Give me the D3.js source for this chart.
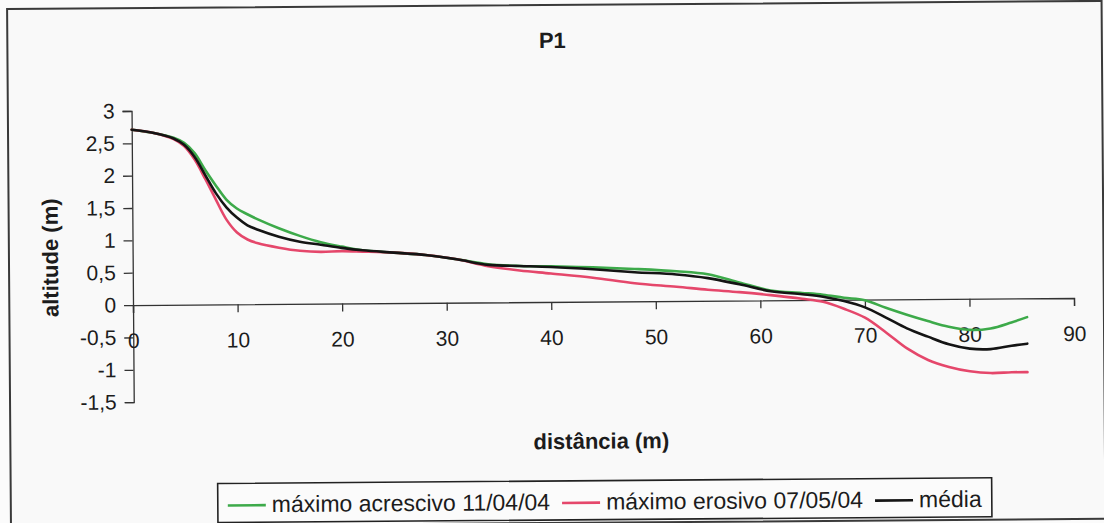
<!DOCTYPE html>
<html>
<head>
<meta charset="utf-8">
<script src="https://cdn.jsdelivr.net/npm/d3@7"></script>
<style>
html,body{margin:0;padding:0;background:#fbfbfb;}
svg{display:block;}
text{font-family:"Liberation Sans",Arial,sans-serif;fill:#1c1c1c;}
</style>
</head>
<body>
<svg id="chart" width="1104" height="523"></svg>
<script>
// ---- data ----
const distancia = [0,2,4,5,6,7,8,9,10,11,12,14,16,18,20,22,25,28,31,34,37,40,44,48,52,55,58,61,64,66,68,70,72,74,76,78,80,82,84,85.5];
const maximoAcrescivo = [2.71,2.66,2.58,2.50,2.34,2.08,1.84,1.62,1.48,1.39,1.31,1.17,1.05,0.95,0.88,0.82,0.78,0.74,0.67,0.59,0.56,0.55,0.53,0.50,0.46,0.41,0.28,0.15,0.11,0.08,0.03,-0.01,-0.13,-0.24,-0.34,-0.43,-0.48,-0.46,-0.37,-0.29];
const maximoErosivo = [2.71,2.66,2.56,2.45,2.24,1.94,1.62,1.31,1.11,1.00,0.94,0.87,0.82,0.80,0.81,0.80,0.78,0.74,0.67,0.56,0.49,0.44,0.37,0.28,0.22,0.17,0.13,0.08,0.02,-0.03,-0.14,-0.28,-0.51,-0.76,-0.94,-1.05,-1.12,-1.15,-1.14,-1.14];
const media = [2.71,2.66,2.57,2.47,2.28,2.00,1.72,1.50,1.34,1.22,1.15,1.04,0.96,0.91,0.86,0.82,0.78,0.74,0.67,0.58,0.56,0.54,0.50,0.45,0.41,0.35,0.25,0.14,0.09,0.05,-0.02,-0.12,-0.28,-0.45,-0.58,-0.70,-0.77,-0.78,-0.73,-0.70];
const seriesNames = ["máximo acrescivo 11/04/04","máximo erosivo 07/05/04","média"];
const seriesColors = ["#3daa4a","#e5476b","#141414"];
const xTicks = [0,10,20,30,40,50,60,70,80,90];
const yTicks = [3,2.5,2,1.5,1,0.5,0,-0.5,-1,-1.5];
const chartTitle = "P1";
const xTitle = "distância (m)";
const yTitle = "altitude (m)";

const series = [maximoAcrescivo, maximoErosivo, media].map((vals,i)=>({
  name: seriesNames[i], color: seriesColors[i],
  pts: distancia.map((d,j)=>[d, vals[j]])
}));

const svg = d3.select("#chart");
// slight scan tilt
const root = svg.append("g").attr("transform","rotate(-0.43,552,262)");

// outer frame
root.append("rect").attr("x",9).attr("y",5).attr("width",1094.5).attr("height",518)
  .attr("fill","#f9f9f9").attr("stroke","#3a3a3a").attr("stroke-width",2);

const x = d3.scaleLinear().domain([0,90]).range([132.7,1073.7]);
const y = d3.scaleLinear().domain([-1.5,3]).range([399,107.8]);
const fmt = v => String(v).replace(".", ",");

// y axis
const ya = root.append("g").attr("transform",`translate(${x(0)},0)`)
  .call(d3.axisLeft(y).tickValues(yTicks).tickSize(9).tickPadding(8).tickFormat(fmt));
ya.select(".domain").attr("stroke","#333").attr("stroke-width",1.3);
ya.selectAll(".tick line").attr("stroke","#333").attr("stroke-width",1.3);
ya.selectAll(".tick text").attr("font-size",21).attr("fill","#1c1c1c")
  .attr("font-family","Liberation Sans, Arial, sans-serif");

// x axis at y = 0
const xa = root.append("g").attr("transform",`translate(0,${y(0)})`)
  .call(d3.axisBottom(x).tickValues(xTicks).tickSize(8).tickFormat(d3.format("d")));
xa.select(".domain").attr("stroke","#333").attr("stroke-width",1.3);
xa.selectAll(".tick line").attr("stroke","#333").attr("stroke-width",1.3);
xa.selectAll(".tick text").attr("font-size",21).attr("fill","#1c1c1c")
  .attr("font-family","Liberation Sans, Arial, sans-serif")
  .attr("y",43).attr("dy",0);

// lines
const line = d3.line().x(d=>x(d[0])).y(d=>y(d[1])).curve(d3.curveCatmullRom.alpha(0.5));
root.append("g").selectAll("path").data(series).join("path")
  .attr("d",d=>line(d.pts)).attr("fill","none")
  .attr("stroke",d=>d.color).attr("stroke-width",2.6)
  .attr("stroke-linejoin","round").attr("stroke-linecap","round");

// titles
root.append("text").attr("x",554).attr("y",48).attr("text-anchor","middle")
  .attr("font-size",22).attr("font-weight","bold").text(chartTitle);
root.append("text").attr("x",600).attr("y",449).attr("text-anchor","middle")
  .attr("font-size",22).attr("font-weight","bold").text(xTitle);
root.append("text").attr("transform","translate(58,254) rotate(-90)").attr("text-anchor","middle")
  .attr("font-size",22).attr("font-weight","bold").text(yTitle);

// legend
const lg = root.append("g");
lg.append("rect").attr("x",216).attr("y",481).attr("width",774).attr("height",39)
  .attr("fill","#fbfbfb").attr("stroke","#222").attr("stroke-width",1.6);
let cx = 226;
series.forEach((s)=>{
  lg.append("line").attr("x1",cx).attr("x2",cx+38).attr("y1",503).attr("y2",503)
    .attr("stroke",s.color).attr("stroke-width",2.6);
  const t = lg.append("text").attr("x",cx+44).attr("y",510).attr("font-size",23).text(s.name);
  cx = cx + 44 + t.node().getComputedTextLength() + 12;
});
</script>
</body>
</html>
